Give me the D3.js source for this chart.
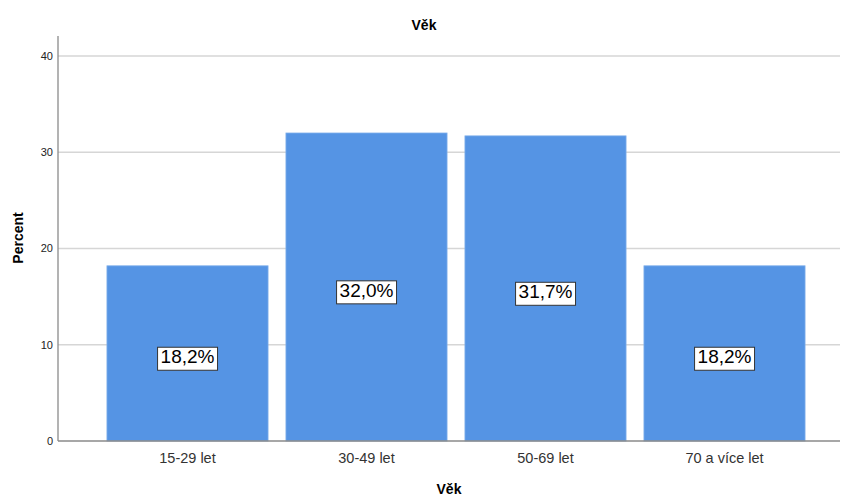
<!DOCTYPE html>
<html>
<head>
<meta charset="utf-8">
<script src="https://cdn.jsdelivr.net/npm/d3@7"></script>
<style>
  body { margin: 0; background: #fff; }
  text { font-family: Arial, "Liberation Sans", sans-serif; }
</style>
</head>
<body>
<svg width="844" height="498"></svg>
<script>
// data
var categories = ['15-29 let', '30-49 let', '50-69 let', '70 a více let'];
var percents = [18.2, 32.0, 31.7, 18.2];
var yTicks = [0, 10, 20, 30, 40];

var svg = d3.select('svg');
var plotLeft = 58, plotRight = 840, plotTop = 36, plotBottom = 441;

var x = d3.scaleBand()
  .domain(categories)
  .range([98, 814])
  .paddingInner(0.1)
  .paddingOuter(0.05);

var y = d3.scaleLinear()
  .domain([0, 40])
  .range([plotBottom, plotBottom - 385]);

// gridlines
svg.append('g').selectAll('line')
  .data(yTicks.slice(1))
  .enter().append('line')
  .attr('x1', plotLeft).attr('x2', plotRight)
  .attr('y1', function (d) { return y(d); })
  .attr('y2', function (d) { return y(d); })
  .attr('stroke', '#d6d6d6')
  .attr('stroke-width', 1.3);

// bars
svg.append('g').selectAll('rect')
  .data(percents)
  .enter().append('rect')
  .attr('x', function (d, i) { return x(categories[i]); })
  .attr('width', x.bandwidth())
  .attr('y', function (d) { return y(d); })
  .attr('height', function (d) { return plotBottom - y(d); })
  .attr('fill', '#5594e4')
  .attr('stroke', '#7eaeea')
  .attr('stroke-width', 0.8);

// axes lines
svg.append('line')
  .attr('x1', plotLeft).attr('x2', plotLeft)
  .attr('y1', plotTop).attr('y2', plotBottom)
  .attr('stroke', '#8a8a8a').attr('stroke-width', 1.3);
svg.append('line')
  .attr('x1', plotLeft).attr('x2', plotRight)
  .attr('y1', plotBottom).attr('y2', plotBottom)
  .attr('stroke', '#8a8a8a').attr('stroke-width', 1.3);

// y tick labels
svg.append('g').selectAll('text')
  .data(yTicks)
  .enter().append('text')
  .attr('x', plotLeft - 5)
  .attr('y', function (d) { return y(d); })
  .attr('dy', '0.35em')
  .attr('text-anchor', 'end')
  .attr('font-size', 11)
  .attr('fill', '#222')
  .text(function (d) { return d; });

// x tick labels
svg.append('g').selectAll('text')
  .data(categories)
  .enter().append('text')
  .attr('x', function (d) { return x(d) + x.bandwidth() / 2; })
  .attr('y', 463)
  .attr('text-anchor', 'middle')
  .attr('font-size', 14.5)
  .attr('fill', '#333')
  .text(function (d) { return d; });

// value labels in boxes
var lab = svg.append('g').selectAll('g')
  .data(percents)
  .enter().append('g')
  .attr('transform', function (d, i) {
    return 'translate(' + (x(categories[i]) + x.bandwidth() / 2) + ',' + (y(d / 2) + 3) + ')';
  });
lab.append('text')
  .attr('text-anchor', 'middle')
  .attr('dy', '0.36em')
  .attr('font-size', 19)
  .attr('fill', '#000')
  .text(function (d) { return d.toFixed(1).replace('.', ',') + '%'; });
lab.each(function () {
  var g = d3.select(this);
  var bb = g.select('text').node().getBBox();
  g.insert('rect', 'text')
    .attr('x', bb.x - 3).attr('y', bb.y + 1)
    .attr('width', bb.width + 6).attr('height', bb.height + 2)
    .attr('fill', '#fff')
    .attr('stroke', '#333')
    .attr('stroke-width', 1);
});

// titles
svg.append('text')
  .attr('x', 424).attr('y', 30)
  .attr('text-anchor', 'middle')
  .attr('font-size', 14).attr('font-weight', 'bold')
  .text('Věk');
svg.append('text')
  .attr('x', 449).attr('y', 494)
  .attr('text-anchor', 'middle')
  .attr('font-size', 14).attr('font-weight', 'bold')
  .text('Věk');
svg.append('text')
  .attr('transform', 'translate(23,238) rotate(-90)')
  .attr('text-anchor', 'middle')
  .attr('font-size', 14).attr('font-weight', 'bold')
  .text('Percent');
</script>
</body>
</html>
